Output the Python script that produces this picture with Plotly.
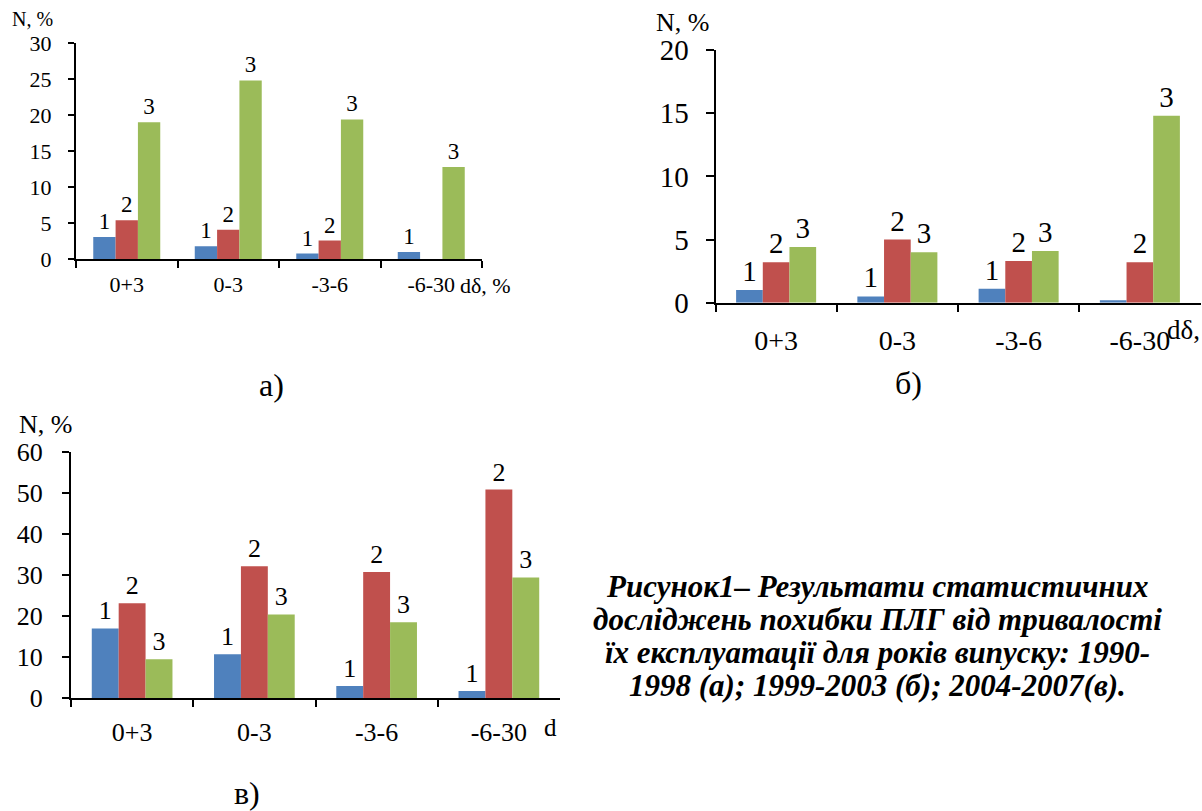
import plotly.graph_objects as go

categories = ["0+3", "0-3", "-3-6", "-6-30"]

# Panel а) 1990-1998
a_s1 = [3.1, 1.8, 0.8, 1.0]
a_s2 = [5.4, 4.1, 2.6, 0.0]
a_s3 = [19.0, 24.8, 19.4, 12.8]
a_lab1 = ["1", "1", "1", "1"]
a_lab2 = ["2", "2", "2", ""]
a_lab3 = ["3", "3", "3", "3"]

# Panel б) 1999-2003
b_s1 = [1.0, 0.5, 1.1, 0.2]
b_s2 = [3.2, 5.0, 3.3, 3.2]
b_s3 = [4.4, 4.0, 4.1, 14.8]
b_lab1 = ["1", "1", "1", ""]
b_lab2 = ["2", "2", "2", "2"]
b_lab3 = ["3", "3", "3", "3"]

# Panel в) 2004-2007
c_s1 = [17.0, 10.7, 3.0, 1.8]
c_s2 = [23.1, 32.1, 30.7, 50.8]
c_s3 = [9.5, 20.4, 18.5, 29.4]
c_lab1 = ["1", "1", "1", "1"]
c_lab2 = ["2", "2", "2", "2"]
c_lab3 = ["3", "3", "3", "3"]

y_ticks_a = [0, 5, 10, 15, 20, 25, 30]
y_ticks_b = [0, 5, 10, 15, 20]
y_ticks_c = [0, 10, 20, 30, 40, 50, 60]

caption_lines = [
    "Рисунок1– Результати статистичних",
    "досліджень похибки ПЛГ від тривалості",
    "їх експлуатації для років випуску: 1990-",
    "1998 (а); 1999-2003 (б); 2004-2007(в).",
]

BLUE = "#4F81BD"
RED = "#C0504D"
GREEN = "#9BBB59"
FONT = "Liberation Serif"
W, H = 1202, 811

fig = go.Figure()

panels = [
    ("x", "y", (a_s1, a_s2, a_s3), (a_lab1, a_lab2, a_lab3), 23),
    ("x2", "y2", (b_s1, b_s2, b_s3), (b_lab1, b_lab2, b_lab3), 29),
    ("x3", "y3", (c_s1, c_s2, c_s3), (c_lab1, c_lab2, c_lab3), 26),
]
colors = [BLUE, RED, GREEN]
for xa, ya, series, labels, fs in panels:
    for vals, labs, col in zip(series, labels, colors):
        fig.add_trace(go.Bar(
            x=categories, y=vals, xaxis=xa, yaxis=ya,
            marker=dict(color=col, line=dict(width=0)),
            text=labs, textposition="outside", cliponaxis=False,
            constraintext="none",
            textfont=dict(family=FONT, size=fs, color="black"),
            showlegend=False, hoverinfo="x+y",
        ))


def px_x(p):
    return p / W


def px_y(p):
    return 1 - p / H


def xax(domain, anchor, fs, standoff):
    return dict(domain=domain, anchor=anchor, type="category",
                automargin=False,
                showline=True, linecolor="black", linewidth=2,
                ticks="outside", tickson="boundaries", ticklen=7,
                tickwidth=2, tickcolor="black", showgrid=False,
                zeroline=False, ticklabelstandoff=standoff,
                tickfont=dict(family=FONT, size=fs, color="black"))


def yax(domain, anchor, rng, tv, fs, ticklen, standoff):
    return dict(domain=domain, anchor=anchor, range=rng,
                automargin=False,
                tickvals=tv, showline=True, linecolor="black",
                linewidth=2, ticks="outside", ticklen=ticklen,
                tickwidth=2, tickcolor="black", showgrid=False,
                zeroline=False, ticklabelstandoff=standoff,
                tickfont=dict(family=FONT, size=fs, color="black"))


def ann(text, x, y, fs, xanchor="center", bold=False, italic=False):
    return dict(text=text, x=px_x(x), y=px_y(y), xref="paper",
                yref="paper", xanchor=xanchor, yanchor="middle",
                showarrow=False,
                font=dict(family=FONT, size=fs, color="black",
                          weight="bold" if bold else "normal",
                          style="italic" if italic else "normal"))


annotations = [
    ann("N, %", 32, 19, 20),
    ann("N, %", 682, 22, 26),
    ann("N, %", 45, 424, 26),
    ann("dδ, %", 458, 285, 22, xanchor="left"),
    ann("dδ, %", 1165, 330, 27, xanchor="left"),
    ann("d", 542, 727, 25, xanchor="left"),
    ann("а)", 271, 385, 32),
    ann("б)", 908, 383, 32),
    ann("в)", 247, 793, 32),
]
for i, line in enumerate(caption_lines):
    annotations.append(ann(line, 877, 586 + 33 * i, 31, bold=True, italic=True))

fig.update_layout(
    template="none",
    width=W, height=H,
    margin=dict(l=0, r=0, t=0, b=0, pad=0),
    paper_bgcolor="white", plot_bgcolor="white",
    barmode="group", bargap=0.34, bargroupgap=0,
    xaxis=xax([px_x(76), px_x(482)], "y", 22, 4),
    yaxis=yax([px_y(259.3), px_y(43)], "x", [0, 30], y_ticks_a, 22, 6, 12),
    xaxis2=xax([px_x(715.5), px_x(1200.5)], "y2", 28, 12),
    yaxis2=yax([px_y(302.7), px_y(50)], "x2", [0, 20], y_ticks_b, 29, 8, 11),
    xaxis3=xax([px_x(71), px_x(560)], "y3", 26, 9),
    yaxis3=yax([px_y(698.3), px_y(451.7)], "x3", [0, 60], y_ticks_c, 26, 7, 14),
    annotations=annotations,
)

fig.write_html("out.html",
               config={"displayModeBar": False},
               post_script="document.body.style.margin='0';document.body.style.overflow='hidden';")
